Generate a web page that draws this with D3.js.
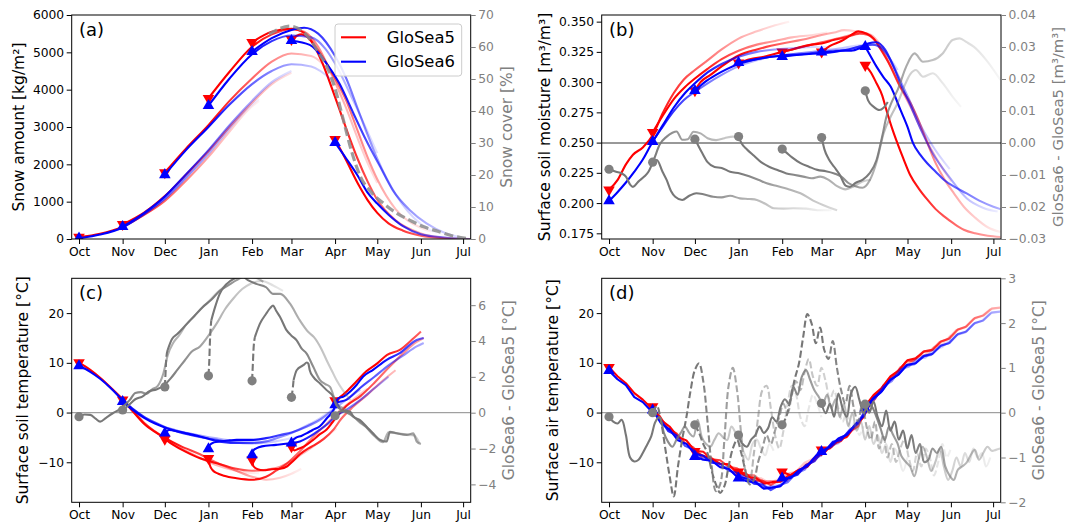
<!DOCTYPE html>
<html><head><meta charset="utf-8">
<script src="https://cdn.jsdelivr.net/npm/d3@7"></script>
<style>
body{margin:0;background:#fff}
text{font-family:"DejaVu Sans",sans-serif}
</style>
</head><body>
<svg id="fig" width="1068" height="523"></svg>
<script>
// ---------- shared calendar (days since 1 Oct) ----------
const months = ["Oct","Nov","Dec","Jan","Feb","Mar","Apr","May","Jun","Jul"];
const monthDays = [0,31,61,92,123,151,182,212,243,273];
const startDays = [0,31,61,92,123,151,182];
const modelNames = ["GloSea5","GloSea6"];

// ---------- (a) snow amount [kg/m2], one series per start month: [day, value] ----------
const snowRed = [
 [[0,50],[15,140],[31,330],[46,640],[61,1020],[76,1560],[92,2200],[107,2880],[120,3450],[128,3700]],
 [[31,390],[46,700],[61,1150],[76,1720],[92,2350],[107,3000],[123,3650],[137,4150],[151,4450]],
 [[61,1780],[76,2420],[92,3050],[107,3700],[123,4300],[137,4750],[151,4970],[165,4900],[180,4400]],
 [[92,3770],[107,4480],[123,5150],[137,5480],[151,5620],[160,5550],[170,5150],[182,4200],[190,3500],[198,2700],[205,2050],[212,1500]],
 [[123,5270],[137,5550],[151,5630],[160,5520],[170,5050],[182,4300],[190,3700],[198,2900],[205,2200],[212,1600],[225,800],[243,300],[250,200]],
 [[151,5350],[158,5480],[165,5300],[172,4800],[182,3800],[190,2950],[198,2150],[205,1550],[212,1050],[225,500],[243,150],[260,30],[271,0]],
 [[182,2670],[190,2100],[198,1500],[205,1050],[212,700],[220,420],[230,230],[243,90],[260,20],[278,0]]
];
const snowBlue = [
 [[0,20],[15,120],[31,310],[46,660],[61,1080],[76,1640],[92,2280],[107,2960],[120,3500],[128,3750]],
 [[31,330],[46,690],[61,1140],[76,1730],[92,2380],[107,3050],[123,3700],[137,4200],[151,4500]],
 [[61,1720],[76,2380],[92,3000],[107,3600],[123,4150],[137,4500],[151,4680],[165,4620],[180,4250]],
 [[92,3570],[107,4300],[123,4950],[137,5300],[151,5450],[165,5400],[175,5100],[182,4700],[195,3700],[212,2300]],
 [[123,5020],[137,5380],[151,5600],[160,5660],[170,5500],[182,4900],[190,4300],[198,3500],[205,2800],[212,2150],[225,1200],[243,400],[255,150]],
 [[151,5312],[164,5200],[176,4700],[185,4170],[195,3370],[204,2650],[214,1940],[223,1310],[235,780],[247,420],[261,150],[271,50]],
 [[182,2580],[190,2150],[198,1700],[205,1250],[212,950],[220,650],[230,350],[243,130],[260,40],[278,0]]
];
// snow cover [%] (right axis, dashed)
const snowCover = [[135,64],[150,66.5],[160,64.5],[170,58.5],[176,54],[182,47],[188,37],[194,27],[200,19.5],[208,14.5],[216,11.3],[226,8],[235,5.9],[245,3.8],[255,2.4],[265,1],[275,0.2]];

// ---------- (b) surface soil moisture [m3/m3] ----------
const moistRed = [
 [[0,0.211],[6,0.219],[12,0.232],[17,0.240],[24,0.246],[31,0.256],[38,0.274],[46,0.291],[53,0.302],[61,0.310],[70,0.318],[80,0.327],[92,0.336],[105,0.342],[118,0.347],[128,0.350]],
 [[31,0.2585],[38,0.272],[46,0.286],[54,0.296],[61,0.303],[70,0.311],[80,0.319],[92,0.326],[105,0.331],[118,0.334],[130,0.337],[145,0.339],[155,0.341]],
 [[61,0.293],[65,0.300],[72,0.306],[80,0.313],[92,0.322],[105,0.327],[115,0.330],[123,0.332],[137,0.335],[151,0.339],[160,0.341],[167,0.343],[175,0.342],[182,0.340]],
 [[92,0.316],[100,0.319],[110,0.321],[123,0.325],[137,0.329],[151,0.333],[162,0.336],[172,0.339],[180,0.341],[186,0.339],[192,0.332],[200,0.316],[208,0.300]],
 [[123,0.325],[130,0.327],[136,0.329],[144,0.331],[151,0.332],[160,0.335],[168,0.337],[178,0.340],[184,0.339],[190,0.333],[197,0.320],[205,0.300],[214,0.280],[222,0.260],[232,0.238],[243,0.218]],
 [[151,0.325],[157,0.330],[165,0.334],[172,0.339],[177,0.342],[183,0.340],[188,0.336],[193,0.327],[200,0.313],[207,0.296],[214,0.283],[220,0.268],[226,0.250],[232,0.233],[238,0.220],[245,0.208],[252,0.197],[260,0.188],[269,0.180],[278,0.176]],
 [[182,0.314],[186,0.308],[190,0.299],[194,0.289],[197,0.277],[201,0.262],[205,0.249],[209,0.237],[214,0.223],[220,0.212],[226,0.203],[232,0.195],[238,0.189],[245,0.183],[252,0.178],[260,0.175],[269,0.173],[278,0.172]]
];
const moistBlue = [
 [[0,0.2017],[6,0.209],[12,0.217],[18,0.226],[24,0.236],[31,0.2507],[38,0.263],[46,0.276],[53,0.285],[61,0.292],[70,0.299],[80,0.306],[92,0.313],[105,0.318],[118,0.322],[128,0.324]],
 [[31,0.2507],[38,0.264],[46,0.279],[54,0.291],[61,0.299],[70,0.308],[80,0.315],[92,0.321],[105,0.325],[118,0.327],[130,0.328],[145,0.329],[155,0.329]],
 [[61,0.293],[68,0.300],[76,0.306],[84,0.311],[92,0.315],[105,0.319],[115,0.321],[123,0.322],[137,0.324],[151,0.326],[165,0.328],[175,0.330],[182,0.331]],
 [[92,0.316],[100,0.318],[110,0.320],[123,0.322],[137,0.323],[151,0.325],[160,0.326],[170,0.327],[180,0.330],[188,0.331],[195,0.326],[205,0.310]],
 [[123,0.3211],[130,0.322],[140,0.323],[151,0.324],[160,0.325],[170,0.327],[180,0.330],[187,0.331],[193,0.329],[200,0.318],[207,0.301],[213,0.286],[221,0.265],[230,0.247],[242,0.228]],
 [[151,0.3247],[158,0.325],[165,0.326],[172,0.326],[178,0.328],[184,0.332],[190,0.333],[196,0.327],[202,0.313],[208,0.296],[214,0.281],[221,0.262],[230,0.241],[242,0.221],[254,0.204],[266,0.196],[276,0.193]],
 [[182,0.3293],[186,0.321],[190,0.3128],[195,0.304],[200,0.2963],[207,0.277],[212,0.263],[216,0.2494],[221,0.240],[226,0.2329],[232,0.226],[238,0.2191],[246,0.213],[254,0.208],[263,0.202],[273,0.197],[278,0.195]]
];
// GloSea6 - GloSea5 (right axis)
const moistDiff = [
 [[0,-0.0082],[5,-0.009],[9,-0.0095],[12,-0.0105],[15,-0.013],[17,-0.0137],[21,-0.012],[25,-0.0105],[28,-0.009],[32,-0.005],[36,-0.0005],[41,0.002],[45,0.0032],[48,0.0036],[52,0.001],[56,0.0012],[60,0.0035],[65,0.003],[70,0.0015],[76,0.0009],[82,0.0015],[88,0.002],[95,0.0015]],
 [[31,-0.006],[34,-0.0053],[38,-0.009],[41,-0.0116],[44,-0.015],[47,-0.0168],[52,-0.0178],[57,-0.0165],[62,-0.0157],[67,-0.016],[74,-0.0168],[80,-0.017],[86,-0.0165],[93,-0.0173],[100,-0.0175],[105,-0.0178],[111,-0.019],[117,-0.0204],[124,-0.0205],[131,-0.0204],[140,-0.0205],[148,-0.021],[158,-0.021]],
 [[61,0.0012],[63,-0.0005],[66,-0.003],[70,-0.006],[75,-0.0075],[80,-0.0078],[86,-0.009],[93,-0.0095],[100,-0.0105],[106,-0.0115],[112,-0.0126],[120,-0.0135],[128,-0.0145],[136,-0.0157],[145,-0.018],[155,-0.0199],[162,-0.021]],
 [[92,0.002],[94,0.0],[98,-0.002],[103,-0.004],[108,-0.006],[114,-0.0075],[120,-0.0085],[126,-0.0095],[132,-0.01],[138,-0.0105],[144,-0.011],[150,-0.0105],[156,-0.0115],[162,-0.0135],[168,-0.0145],[174,-0.0135],[180,-0.012],[186,-0.0115]],
 [[123,-0.0019],[126,-0.003],[130,-0.0045],[136,-0.0063],[142,-0.0074],[148,-0.0084],[154,-0.0088],[160,-0.0095],[165,-0.0105],[170,-0.0125],[175,-0.0135],[180,-0.014],[185,-0.0118],[190,-0.006],[195,0.003],[200,0.0082],[205,0.0125],[210,0.018],[214,0.0215],[218,0.0228],[223,0.0207],[230,0.0218],[237,0.0187],[244,0.0145],[250,0.0113]],
 [[151,0.0017],[153,-0.002],[156,-0.005],[160,-0.0075],[164,-0.01],[168,-0.0133],[171,-0.0137],[175,-0.0125],[180,-0.0115],[185,-0.0095],[190,-0.0053],[194,0.002],[197,0.0082],[201,0.013],[205,0.0166],[211,0.0238],[217,0.028],[223,0.0254],[230,0.0259],[237,0.028],[244,0.0322],[249,0.0327],[254,0.0315],[259,0.0301],[268,0.0259],[278,0.0197]],
 [[182,0.0163],[184,0.0133],[188,0.0113],[192,0.0103],[195,0.011],[198,0.0128]]
];

// ---------- (c) surface soil temperature [°C] ----------
const soilRed = [
 [[0,10.06],[8,8.6],[15,7.0],[23,4.9],[31,2.7],[38,0.5],[46,-2.0],[54,-3.8],[61,-5.1],[72,-7.1],[86,-9.1],[98,-10.6],[110,-11.6],[120,-12.1],[128,-12.2]],
 [[31,2.55],[38,0.3],[46,-2.2],[54,-3.9],[61,-5.1],[72,-6.7],[86,-8.4],[98,-10.1],[110,-11.5],[123,-12.9],[133,-13.5],[143,-13.1],[151,-12.3],[158,-11.3]],
 [[61,-5.35],[67,-6.5],[76,-7.9],[86,-9.2],[98,-10.2],[110,-11.2],[123,-11.7],[133,-11.5],[143,-10.9],[151,-9.7],[157,-8.6],[166,-6.9],[176,-4.8],[183,-3.2]],
 [[92,-9.2],[93,-10.6],[95,-11.6],[99,-12.3],[103,-12.7],[112,-13.2],[123,-13.5],[133,-12.9],[140,-11.7],[148,-10.2],[157,-7.8],[166,-5.0],[176,-2.3],[185,0.3],[195,2.6],[205,4.8]],
 [[123,-9.5],[124,-10.8],[127,-11.4],[131,-11.6],[137,-11.4],[143,-11.3],[148,-10.8],[152,-9.8],[157,-8.4],[163,-7.2],[167,-6.6],[174,-5.3],[181,-3.4],[186,-1.4],[195,1.2],[205,3.6],[215,6.2],[225,8.5]],
 [[151,-6.84],[153,-7.6],[156,-7.3],[160,-6.8],[166,-5.6],[171,-4.4],[176,-3.4],[180,-2.0],[183,-0.9],[190,1.3],[200,3.3],[210,6.0],[220,9.0],[230,11.8],[240,14.2],[245,15.0]],
 [[182,2.4],[183,2.55],[186,3.2],[190,4.2],[197,6.2],[204,8.25],[212,9.9],[219,11.6],[228,12.6],[238,15.0],[243,16.3]]
];
const soilBlue = [
 [[0,9.4],[8,8.2],[15,6.8],[23,4.8],[31,2.5],[38,0.8],[46,-0.8],[54,-2.0],[61,-2.9],[72,-3.8],[86,-4.6],[98,-5.2],[110,-5.7],[120,-5.9],[128,-6.0]],
 [[31,2.2],[38,0.6],[46,-1.0],[54,-2.2],[61,-3.0],[72,-4.0],[86,-4.9],[98,-5.5],[110,-6.0],[123,-6.2],[137,-5.9],[151,-5.1],[158,-4.6]],
 [[61,-4.15],[64,-3.5],[67,-3.6],[76,-4.15],[86,-4.8],[98,-5.7],[110,-6.1],[123,-6.1],[133,-5.8],[143,-4.9],[151,-4.1],[162,-2.6],[171,-1.2],[181,0.8]],
 [[92,-7.3],[93,-6.5],[96,-6.0],[100,-5.8],[107,-5.6],[112,-5.5],[123,-5.5],[133,-5.15],[143,-4.5],[151,-4.0],[162,-2.8],[171,-1.5],[181,0.6],[190,2.6],[200,4.6]],
 [[123,-8.5],[124,-7.6],[126,-7.2],[130,-6.8],[140,-6.5],[150,-6.16],[157,-5.8],[162,-5.15],[167,-4.3],[171,-3.5],[177,-2.2],[182,-0.8],[190,0.55],[200,2.55],[210,4.9],[220,7.2]],
 [[151,-6.16],[152,-5.6],[154,-5.1],[158,-4.7],[162,-4.15],[166,-3.5],[171,-2.8],[176,-1.2],[181,0.55],[183,1.9],[190,2.55],[200,5.0],[210,7.2],[220,9.5],[230,11.4],[240,13.3],[245,14.0]],
 [[182,1.55],[184.5,2.9],[188,3.2],[192.6,4.2],[197.4,5.6],[202,7.25],[209,8.6],[218.7,10.6],[228,11.95],[240,14.6],[245,15.0]]
];
const soilDiff = [
 [[0,-0.22],[4,-0.1],[8,-0.12],[12,-0.35],[15,-0.5],[19,-0.3],[24,-0.03],[28,0.15],[31,0.33],[36,0.7],[40,1.1],[44,1.15],[48,1.05],[52,1.3],[56,1.5],[60,2.2],[63,3.2],[67,3.9],[71,4.3],[76,4.9],[82,5.4],[88,5.9],[92,6.2],[98,6.7],[104,7.1],[110,7.45],[116,7.7]],
 [[31,0.15],[35,0.4],[40,0.75],[45,0.9],[50,1.2],[55,1.3],[60,1.5],[65,1.9],[70,2.4],[75,2.9],[80,3.4],[86,3.7],[92,4.3],[98,5.0],[104,5.8],[110,6.4],[116,6.9],[122,7.2],[130,7.35],[138,7.1],[145,6.8]],
 [[61,1.44],[61.5,2.2],[62,3.0],[63,3.5],[66,4.1],[70,4.4],[76,4.9],[82,5.4],[88,5.9],[94,6.3],[100,6.8],[106,7.1],[112,7.4],[118,7.6],[125,7.55],[131,7.3]],
 [[92,2.06],[92.6,2.9],[93,3.86],[94,5.15],[96.7,5.89],[100,6.63],[105,7.19],[110,7.47],[116,7.6],[120,7.4],[126,7.19],[133,7.0],[138,6.63],[143,6.63],[150,6.08],[157,5.15],[163,4.5],[167,4.22],[172,3.6],[176,2.93],[180,2.3],[183,1.82],[188,1.2],[193,0.7]],
 [[123,1.78],[123.5,2.6],[124,3.48],[125,4.22],[128.6,4.97],[133,5.52],[136,5.85],[138,5.98],[140,5.7],[143,5.33],[147.6,4.59],[151,4.3],[154.7,4.04],[158,3.6],[161.8,3.3],[166.5,2.56],[171.3,1.82],[175,1.6],[178.4,1.44],[183,0.52],[190,0.15],[195,-0.2],[200,-0.59],[204,-0.78],[209,-1.2],[214,-1.5],[218,-1.6],[221,-1.1],[226,-1.15],[233,-1.24],[238,-1.3],[241,-1.7]],
 [[151,0.86],[152,1.4],[152.5,1.82],[154.7,2.37],[159.4,2.65],[162,2.8],[163,2.74],[164,2.37],[166.5,2.0],[171.3,1.63],[176,1.26],[180.7,0.89],[183,0.4],[188,0.1],[193,-0.1],[198,-0.4],[204,-0.8],[210,-1.3],[216,-1.65],[220,-1.1],[226,-1.15],[232,-1.2],[238,-1.25],[242,-1.7]],
 [[182,-0.17],[185.5,0.06],[189,0.1],[192.6,0.06],[195,-0.22],[199.7,-0.41],[204.4,-0.78],[209,-1.15],[213.9,-1.52],[218.7,-1.61],[221,-1.06],[225.8,-1.15],[232.9,-1.24],[237.6,-1.15],[240,-1.61],[243,-1.75]]
];
// day up to which each difference curve is drawn dashed (0 = solid throughout)
const soilDiffDash = [0,0,63,94,125,152.5,0];

// ---------- (d) surface air temperature [°C], 6-day steps from each start ----------
const airStep = 6;
const airRed = [
 [9.1,7.3,5.9,3.9,2.6,0.9,-0.7,-3.3,-4.2,-6.1,-7.0,-8.9,-8.9,-10.3,-10.4,-11.9,-12.1,-13.1,-13.2,-14.2,-13.4],
 [1.2,-1.5,-2.8,-4.9,-5.6,-7.7,-7.9,-9.4,-9.6,-10.9,-11.2,-12.5,-12.6,-13.9,-13.8,-13.8,-12.3,-11.9,-10.1,-9.3,-7.4],
 [-7.8,-8.7,-9.3,-10.3,-10.4,-12.1,-12.2,-13.7,-13.7,-14.6,-13.6,-13.5,-11.8,-11.2,-9.3,-8.5,-6.7,-6.1,-4.3,-3.3,-0.5],
 [-11.9,-12.9,-13.1,-14.3,-14.0,-13.9,-12.6,-12.3,-10.5,-9.7,-7.6,-7.0,-5.3,-4.6,-2.3,-0.2,2.9,4.5,6.9,8.2,10.1],
 [-11.9,-12.6,-11.5,-10.9,-8.9,-8.1,-6.3,-5.7,-3.7,-2.8,0.7,2.7,5.5,6.7,9.1,9.7,11.2,11.6,13.2,13.8,15.6],
 [-7.5,-7.2,-5.5,-4.9,-2.6,-0.9,2.9,4.5,6.8,8.1,10.2,10.5,12.2,12.5,14.2,14.8,16.6,17.1,18.8,19.4,20.8],
 [1.3,3.5,5.0,7.3,8.5,10.5,10.9,12.3,12.6,14.3,14.9,16.7,17.3,19.0,19.5,20.9,21.1]
];
const airBlue = [
 [8.4,6.7,5.5,3.1,2.1,0.3,-1.2,-3.7,-4.6,-6.7,-7.5,-9.2,-9.3,-10.8,-11.0,-12.6,-12.7,-13.9,-14.1,-15.3,-14.3],
 [0.5,-2.2,-3.4,-5.6,-6.3,-8.3,-8.7,-10.1,-10.3,-11.7,-12.1,-13.4,-13.5,-15.1,-14.9,-14.9,-13.1,-12.6,-10.7,-9.9,-7.8],
 [-8.85,-9.5,-9.7,-11.0,-11.3,-12.9,-13.2,-14.3,-14.5,-15.6,-14.6,-14.0,-12.2,-11.5,-9.5,-8.6,-6.8,-6.2,-4.2,-3.2,-0.3],
 [-13.2,-13.8,-14.0,-15.3,-15.1,-14.8,-13.0,-12.5,-10.6,-9.8,-7.7,-6.9,-5.1,-4.3,-2.1,0.1,3.0,4.3,6.7,7.9,9.8],
 [-13.2,-13.2,-11.6,-10.7,-8.7,-7.9,-5.9,-5.5,-3.5,-2.3,1.0,2.8,5.2,6.3,8.7,9.2,10.7,11.1,12.6,13.2,14.9],
 [-7.85,-6.8,-5.2,-4.5,-2.4,-0.7,2.6,4.0,6.3,7.5,9.4,9.7,11.3,11.6,13.3,13.9,15.6,16.1,17.8,18.4,20.0],
 [0.9,2.9,4.3,6.6,7.7,9.6,9.9,11.4,11.8,13.5,14.0,15.8,16.3,18.0,18.5,20.1,20.3]
];
// GloSea6 - GloSea5, 3-day steps from each start
const airDiffStep = 3;
const airDiff = [
 [-0.09,-0.2,-0.24,-0.16,-0.5,-1.0,-1.09,-1.05,-0.9,-0.72,-0.53,-0.2,-0.1,-0.45,-0.65,-0.76,-0.6,-0.45,-0.31,-0.45,-0.53,-0.16,-0.55,-0.7,-0.76,-0.6,-0.46,-0.55,-0.61,-0.31,-0.45,-0.61,-0.9,-1.05,-0.7,-0.6,-0.8,-0.95,-0.7,-0.85],
 [0.0,0.15,-0.2,-0.8,-1.4,-1.87,-1.2,-0.6,-0.1,0.5,0.95,1.1,0.7,-0.2,-1.2,-1.75,-1.6,-0.6,0.6,1.0,0.5,-0.5,-1.3,-1.5,-0.9,-0.1,0.5,0.6,0.1,-0.5,-0.8,-0.4,0.2,0.6,0.4,-0.1,-0.3,0.1,0.4,0.2,-0.1],
 [-0.27,-0.45,-0.7,-0.9,-1.3,-1.6,-1.79,-1.64,-1.2,-0.8,-0.61,-0.9,-1.3,-1.6,-1.5,-1.1,-0.8,-0.5,-0.7,-0.4,-0.1,0.2,0.0,0.4,0.7,0.5,0.9,1.2,0.8,0.6,1.0,0.7,0.3,0.5,0.1,-0.2,0.0,-0.4,-0.2,-0.5,-0.3],
 [-0.5,-0.7,-0.76,-0.6,-0.5,-0.31,-0.45,-0.35,-0.1,-0.2,0.13,0.3,0.2,0.58,0.4,0.8,0.95,0.73,0.5,0.36,0.21,0.4,0.1,0.3,-0.1,0.2,-0.3,0.0,-0.4,-0.2,-0.6,-0.3,-0.7,-0.5,-0.9,-0.7,-1.1,-0.8,-1.0,-1.3,-1.0],
 [-0.27,-0.09,0.3,0.75,1.1,1.69,2.2,1.99,1.55,1.9,1.4,1.2,1.6,1.0,0.5,0.2,0.6,0.1,-0.2,0.2,-0.3,-0.6,-0.2,-0.8,-0.5,-1.0,-0.7,-1.1,-0.8,-0.6,-1.0,-1.3,-0.9,-1.2,-0.8,-1.0,-1.4,-1.1,-0.7,-1.0,-0.8],
 [0.21,-0.01,0.2,-0.09,0.43,0.1,-0.09,0.43,0.58,0.28,-0.01,0.2,0.13,-0.09,-0.35,-0.61,-0.31,-0.5,-0.68,-0.98,-1.1,-1.2,-1.42,-1.05,-0.76,-1.0,-1.3,-1.1,-0.8,-1.2,-1.5,-1.3,-1.0,-1.2,-0.9,-1.1,-0.8,-1.0,-0.9,-1.2,-1.0],
 [0.19,0.0,0.25,-0.1,-0.3,0.05,-0.4,-0.2,-0.6,-0.4,-0.8,-0.5,-0.9,-0.7,-1.1,-1.05,-0.8,-0.9,-0.76,-1.2,-1.4,-1.5,-1.27,-1.2,-1.12,-0.95,-0.83,-1.05,-0.9,-0.76,-0.85,-0.83,-0.8]
];
const airDiffDashed = [false,true,true,false,true,false,false];

// ---------- drawing ----------
const svg = d3.select("#fig");
const defs = svg.append("defs");
const RED = "#ff0000", BLUE = "#0000ff", GREY = "#777777", DOT = "#808080", AXGREY = "#808080";
const FADE_DAYS = 135;
const TICK_FS = 12.3, LABEL_FS = 15.5;
let gradCount = 0;

// stroke that fades with forecast lead time
function fadeStroke(color, x0, x1) {
  const id = "fade" + (gradCount++);
  const g = defs.append("linearGradient").attr("id", id)
    .attr("gradientUnits", "userSpaceOnUse")
    .attr("x1", x0).attr("x2", x1).attr("y1", 0).attr("y2", 0);
  [[0,1],[0.22,1],[0.45,0.62],[0.7,0.32],[0.9,0.1],[1,0]].forEach(([o,a]) =>
    g.append("stop").attr("offset", o).attr("stop-color", color).attr("stop-opacity", a));
  return `url(#${id})`;
}

const stepPairs = (vals, start, step) => vals.map((v, i) => [start + i * step, v]);

function drawPanel(p) {
  const x = d3.scaleLinear().domain([-5.2, 278.4]).range([p.L, p.R]);
  const yL = d3.scaleLinear().domain(p.yL).range([p.B, p.T]);
  const yR = d3.scaleLinear().domain(p.yR).range([p.B, p.T]);
  const clipId = "clip-" + p.tag;
  defs.append("clipPath").attr("id", clipId).append("rect")
    .attr("x", p.L).attr("y", p.T).attr("width", p.R - p.L).attr("height", p.B - p.T);
  const plot = svg.append("g").attr("clip-path", `url(#${clipId})`);

  if (p.zeroColor) {
    plot.append("line").attr("x1", p.L).attr("x2", p.R)
      .attr("y1", yR(0)).attr("y2", yR(0))
      .attr("stroke", p.zeroColor).attr("stroke-width", 1);
  }

  const mkLine = (ys, curve) => d3.line().x(d => x(d[0])).y(d => ys(d[1])).curve(curve);

  function drawSeries(set, color, ys, curve, width, dashFn) {
    const ln = mkLine(ys, curve);
    set.forEach((s, k) => {
      const stroke = fadeStroke(color, x(s[0][0]), x(s[0][0] + FADE_DAYS));
      const dashUntil = dashFn ? dashFn(k, s) : 0;
      if (dashUntil > 0) {
        const a = s.filter(d => d[0] <= dashUntil);
        const b = s.filter(d => d[0] >= a[a.length - 1][0]);
        plot.append("path").attr("d", ln(a)).attr("fill", "none").attr("stroke", stroke)
          .attr("stroke-width", width).attr("stroke-dasharray", "7,3");
        if (b.length > 1) plot.append("path").attr("d", ln(b)).attr("fill", "none")
          .attr("stroke", stroke).attr("stroke-width", width).attr("stroke-linejoin", "round");
      } else {
        plot.append("path").attr("d", ln(s)).attr("fill", "none").attr("stroke", stroke)
          .attr("stroke-width", width).attr("stroke-linejoin", "round");
      }
    });
  }
  function drawTriangles(set, color, down) {
    const sym = d3.symbol().type(d3.symbolTriangle).size(58);
    set.forEach(s => {
      plot.append("path").attr("d", sym())
        .attr("transform", `translate(${x(s[0][0])},${yL(s[0][1])})` + (down ? " rotate(180)" : ""))
        .attr("fill", color);
    });
  }

  drawSeries(p.red, RED, yL, p.curve, 2.1);
  drawTriangles(p.red, RED, true);
  drawSeries(p.blue, BLUE, yL, p.curve, 2.1);
  drawTriangles(p.blue, BLUE, false);

  if (p.cover) {
    plot.append("path").attr("d", mkLine(yR, d3.curveMonotoneX)(p.cover))
      .attr("fill", "none").attr("stroke", "#8c8c8c").attr("stroke-opacity", 0.85)
      .attr("stroke-width", 3.2).attr("stroke-dasharray", "9,4");
  }
  if (p.diff) {
    drawSeries(p.diff, GREY, yR, p.diffCurve, 2.1, p.diffDash);
    p.diff.forEach(s => plot.append("circle").attr("cx", x(s[0][0])).attr("cy", yR(s[0][1]))
      .attr("r", 4.6).attr("fill", DOT));
  }

  // frame
  svg.append("rect").attr("x", p.L).attr("y", p.T).attr("width", p.R - p.L).attr("height", p.B - p.T)
    .attr("fill", "none").attr("stroke", "#000").attr("stroke-width", 1);

  // axes
  const gx = svg.append("g").attr("transform", `translate(0,${p.B})`)
    .call(d3.axisBottom(x).tickValues(monthDays).tickFormat((d, i) => months[i])
      .tickSize(5).tickPadding(3).tickSizeOuter(0));
  const gl = svg.append("g").attr("transform", `translate(${p.L},0)`)
    .call(d3.axisLeft(yL).tickValues(p.ticksL).tickFormat(p.fmtL).tickSize(5).tickPadding(2.5).tickSizeOuter(0));
  const gr = svg.append("g").attr("transform", `translate(${p.R},0)`)
    .call(d3.axisRight(yR).tickValues(p.ticksR).tickFormat(p.fmtR).tickSize(5).tickPadding(2.5).tickSizeOuter(0));
  [gx, gl, gr].forEach(g => {
    g.select(".domain").remove();
    g.selectAll("text").attr("font-size", TICK_FS).attr("font-family", '"DejaVu Sans", sans-serif');
  });
  gx.selectAll("line").attr("stroke", "#000");
  gl.selectAll("line").attr("stroke", "#000");
  gx.selectAll("text").attr("fill", "#000");
  gl.selectAll("text").attr("fill", "#000");
  gr.selectAll("line").attr("stroke", AXGREY);
  gr.selectAll("text").attr("fill", AXGREY);

  // axis titles
  const cy = (p.T + p.B) / 2;
  svg.append("text").attr("transform", `translate(${p.labelLX},${cy}) rotate(-90)`)
    .attr("text-anchor", "middle").attr("dominant-baseline", "central")
    .attr("font-size", LABEL_FS).attr("fill", "#000").text(p.labelL);
  svg.append("text").attr("transform", `translate(${p.labelRX},${cy}) rotate(-90)`)
    .attr("text-anchor", "middle").attr("dominant-baseline", "central")
    .attr("font-size", p.labelRSize || LABEL_FS).attr("fill", AXGREY).text(p.labelR);
  svg.append("text").attr("x", p.L + 7.3).attr("y", p.T + 21)
    .attr("font-size", 18).attr("fill", "#000").text(`(${p.tag})`);
  return {x, yL, yR};
}

const minus = v => (v < 0 ? "\u2212" : "") + Math.abs(v);
const fmtFixed = n => v => (v < -1e-9 ? "\u2212" : "") + Math.abs(v).toFixed(n);

// (a)
drawPanel({
  tag: "a", L: 71.7, R: 470.7, T: 15, B: 239,
  yL: [0, 6000], yR: [0, 70],
  ticksL: d3.range(0, 6001, 1000), ticksR: d3.range(0, 71, 10),
  fmtL: d => d, fmtR: d => d,
  red: snowRed, blue: snowBlue, cover: snowCover,
  curve: d3.curveMonotoneX,
  labelL: "Snow amount [kg/m\u00b2]", labelLX: 18.5,
  labelR: "Snow cover [%]", labelRX: 506.7
});
// legend
const leg = svg.append("g");
leg.append("rect").attr("x", 335).attr("y", 24).attr("width", 126.7).attr("height", 52).attr("rx", 3)
  .attr("fill", "#fff").attr("fill-opacity", 0.85).attr("stroke", "#cccccc");
[[RED, 37.3], [BLUE, 61.7]].forEach(([c, yy], i) => {
  leg.append("line").attr("x1", 341).attr("x2", 366).attr("y1", yy).attr("y2", yy)
    .attr("stroke", c).attr("stroke-width", 2.1);
  leg.append("text").attr("x", 386.7).attr("y", yy).attr("dominant-baseline", "central")
    .attr("font-size", 16.4).attr("fill", "#000").text(modelNames[i]);
});

// (b)
drawPanel({
  tag: "b", L: 601.7, R: 1001, T: 15, B: 239,
  yL: [0.1703, 0.3555], yR: [-0.03, 0.04],
  ticksL: [0.175,0.2,0.225,0.25,0.275,0.3,0.325,0.35],
  ticksR: [-0.03,-0.02,-0.01,0,0.01,0.02,0.03,0.04],
  fmtL: d3.format(".3f"), fmtR: fmtFixed(2),
  red: moistRed, blue: moistBlue, diff: moistDiff,
  curve: d3.curveMonotoneX, diffCurve: d3.curveMonotoneX,
  zeroColor: "#333",
  labelL: "Surface soil moisture [m\u00b3/m\u00b3]", labelLX: 545,
  labelR: "GloSea6 - GloSea5 [m\u00b3/m\u00b3]", labelRX: 1057.5, labelRSize: 14.8
});

// (c)
drawPanel({
  tag: "c", L: 71.7, R: 470.7, T: 278.3, B: 502.3,
  yL: [-18.05, 27.0], yR: [-5, 7.5],
  ticksL: [-10, 0, 10, 20], ticksR: [-4, -2, 0, 2, 4, 6],
  fmtL: minus, fmtR: minus,
  red: soilRed, blue: soilBlue, diff: soilDiff,
  curve: d3.curveMonotoneX, diffCurve: d3.curveMonotoneX,
  diffDash: k => soilDiffDash[k],
  zeroColor: "#8a8a8a",
  labelL: "Surface soil temperature [\u00b0C]", labelLX: 23.3,
  labelR: "GloSea6 - GloSea5 [\u00b0C]", labelRX: 508.5
});

// (d)
drawPanel({
  tag: "d", L: 601.7, R: 1000.7, T: 278.3, B: 502.3,
  yL: [-18.05, 27.0], yR: [-2, 3],
  ticksL: [-10, 0, 10, 20], ticksR: [-2, -1, 0, 1, 2, 3],
  fmtL: minus, fmtR: minus,
  red: airRed.map((v, k) => stepPairs(v, startDays[k], airStep)),
  blue: airBlue.map((v, k) => stepPairs(v, startDays[k], airStep)),
  diff: airDiff.map((v, k) => stepPairs(v, startDays[k], airDiffStep)),
  curve: d3.curveLinear, diffCurve: d3.curveCatmullRom.alpha(0.5),
  diffDash: (k, s) => airDiffDashed[k] ? s[s.length - 1][0] : 0,
  zeroColor: "#8a8a8a",
  labelL: "Surface air temperature [\u00b0C]", labelLX: 553.3,
  labelR: "GloSea6 - GloSea5 [\u00b0C]", labelRX: 1039
});
</script>
</body></html>
